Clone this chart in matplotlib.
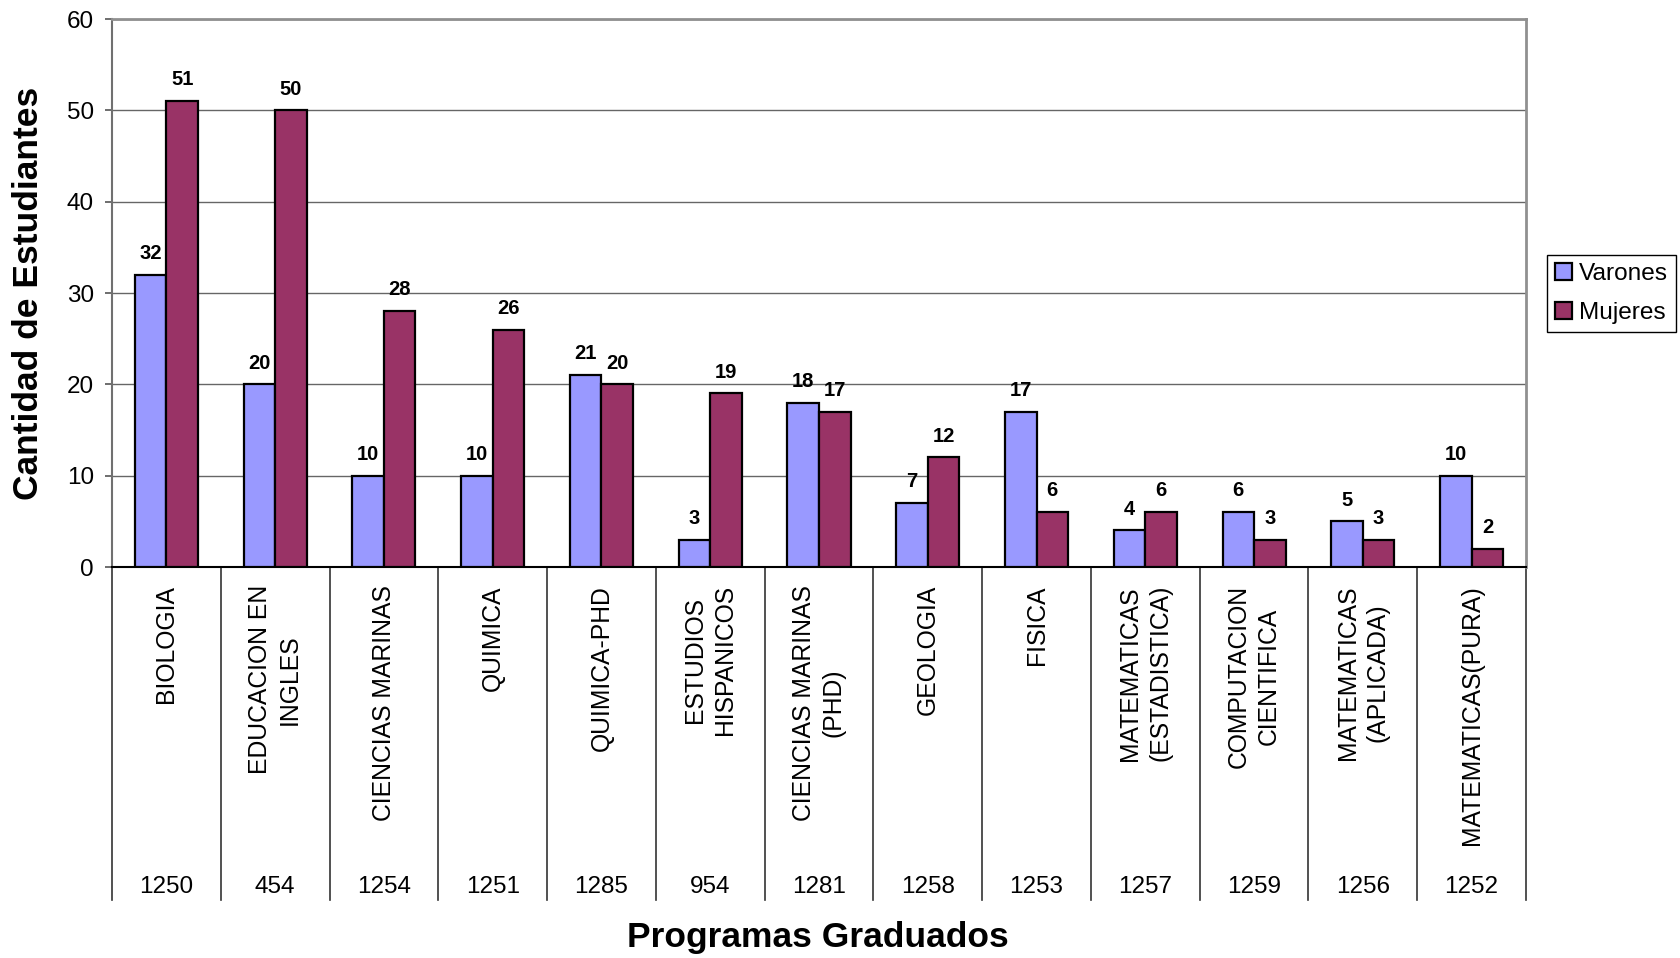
import matplotlib
matplotlib.use("Agg")
from matplotlib import pyplot as plt
import numpy as np

# data
programs = ["BIOLOGIA", "EDUCACION EN\nINGLES", "CIENCIAS MARINAS", "QUIMICA",
            "QUIMICA-PHD", "ESTUDIOS\nHISPANICOS", "CIENCIAS MARINAS\n(PHD)",
            "GEOLOGIA", "FISICA", "MATEMATICAS\n(ESTADISTICA)",
            "COMPUTACION\nCIENTIFICA", "MATEMATICAS\n(APLICADA)", "MATEMATICAS(PURA)"]
codes = ["1250", "454", "1254", "1251", "1285", "954", "1281", "1258",
         "1253", "1257", "1259", "1256", "1252"]
varones = [32, 20, 10, 10, 21, 3, 18, 7, 17, 4, 6, 5, 10]
mujeres = [51, 50, 28, 26, 20, 19, 17, 12, 6, 6, 3, 3, 2]

plt.rcParams['font.family'] = ['Liberation Sans', 'DejaVu Sans']

W, H = 1680, 958
fig = plt.figure(figsize=(W / 100, H / 100), dpi=100)
ax = fig.add_axes([112 / W, 1 - 567 / H, (1526 - 112) / W, (567 - 19) / H])

x = np.arange(len(programs))
bw = 0.29
b1 = ax.bar(x - bw / 2, varones, bw, color='#9999FF', edgecolor='black',
            linewidth=1.6, label='Varones', zorder=3)
b2 = ax.bar(x + bw / 2, mujeres, bw, color='#993366', edgecolor='black',
            linewidth=1.6, label='Mujeres', zorder=3)

for bars in (b1, b2):
    for rect in bars:
        ax.annotate(f"{int(rect.get_height())}",
                    (rect.get_x() + rect.get_width() / 2, rect.get_height()),
                    xytext=(0, 8.5), textcoords='offset points',
                    ha='center', va='bottom', fontsize=14.5, fontweight='bold')

ax.set_xlim(-0.5, len(programs) - 0.5)
ax.set_ylim(0, 60)
ax.set_yticks(range(0, 61, 10))
ax.set_xticks([])
ax.tick_params(axis='y', labelsize=17.5, length=5, width=1.2, pad=8,
               color='#555555')
ax.yaxis.grid(True, color='#666666', linewidth=1, zorder=0)
ax.set_axisbelow(True)

for side in ('top', 'right'):
    ax.spines[side].set_color('#909090')
    ax.spines[side].set_linewidth(2)
ax.spines['left'].set_color('#707070')
ax.spines['left'].set_linewidth(1.5)
ax.spines['bottom'].set_color('black')
ax.spines['bottom'].set_linewidth(1.5)

# multi-level category axis below the plot
trans = ax.get_xaxis_transform()
for i in range(len(programs) + 1):
    ax.plot([i - 0.5, i - 0.5], [0, -0.608], transform=trans, color='#333333',
            linewidth=1.2, clip_on=False)
for i, (name, code) in enumerate(zip(programs, codes)):
    ax.text(i, -0.033, name, transform=trans, rotation=90, ha='center',
            va='top', multialignment='center', fontsize=17.8, linespacing=1.3)
    ax.text(i, -0.584, code, transform=trans, ha='center', va='center',
            fontsize=17.5)

fig.text(29 / W, 1 - 293 / H, 'Cantidad de Estudiantes', rotation=90,
         ha='center', va='center', fontsize=25.5, fontweight='bold')
fig.text(818 / W, 1 - 937 / H, 'Programas Graduados',
         ha='center', va='center', fontsize=25.5, fontweight='bold')

leg = ax.legend(loc='upper left', bbox_to_anchor=(1547 / W, 1 - 255 / H),
                bbox_transform=fig.transFigure, borderaxespad=0,
                fontsize=17.6, fancybox=False, framealpha=1,
                handlelength=0.7, handleheight=0.7, handletextpad=0.3,
                borderpad=0.32, labelspacing=0.7)
leg.get_frame().set_edgecolor('black')
leg.get_frame().set_linewidth(1)

fig.savefig('out.png', dpi=100)
